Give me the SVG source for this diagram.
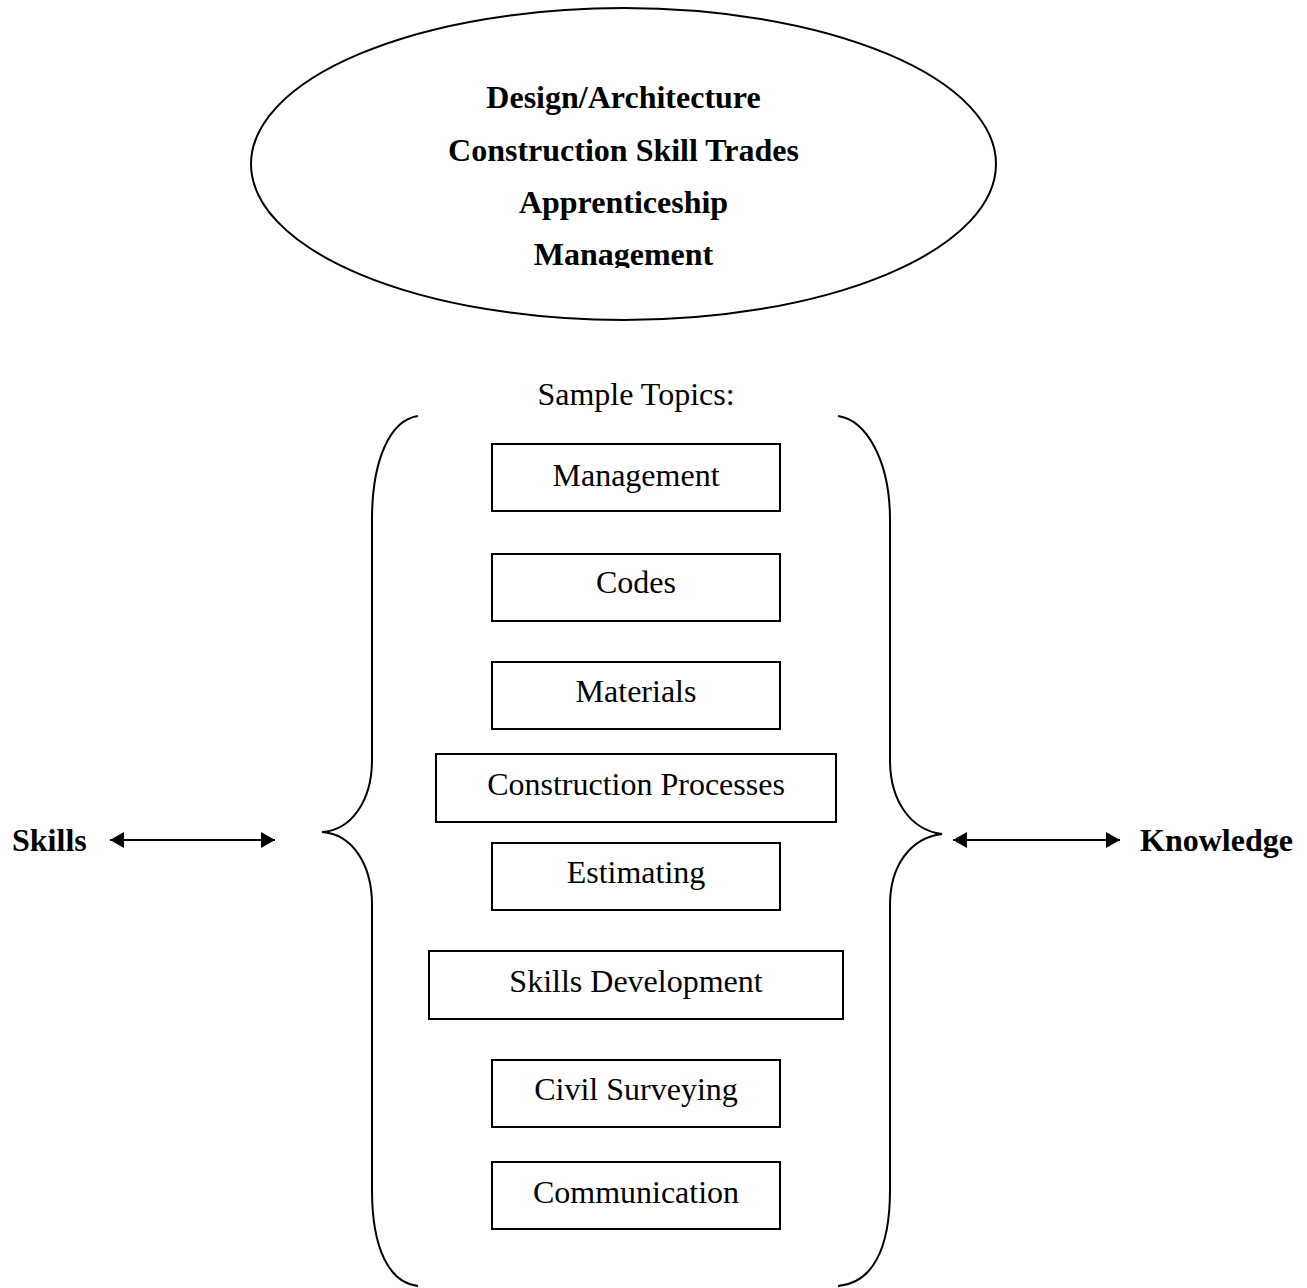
<svg xmlns="http://www.w3.org/2000/svg" width="1307" height="1288" viewBox="0 0 1307 1288">
<style>
.ln{fill:none;stroke:#000;stroke-width:2}
.box{fill:#fff;stroke:#000;stroke-width:2}
.t{font-family:"Liberation Serif","Times New Roman",serif;font-size:32px;fill:#000}
.b{font-weight:bold}
.c{text-anchor:middle}
</style>
<defs>
<marker id="ah" viewBox="0 0 14 16" refX="14" refY="8" markerWidth="14" markerHeight="16" markerUnits="userSpaceOnUse" orient="auto-start-reverse">
<path d="M0,0 L14,8 L0,16 Z" fill="#000"/>
</marker>
<clipPath id="ellclip"><rect x="240" y="0" width="780" height="268"/></clipPath>
</defs>
<rect width="1307" height="1288" fill="#fff"/>
<g id="ellipse-node">
<ellipse class="ln" cx="623.5" cy="164" rx="372.5" ry="156"/>
<g clip-path="url(#ellclip)">
<text class="t b c" x="623.5" y="108">Design/Architecture</text>
<text class="t b c" x="623.5" y="161">Construction Skill Trades</text>
<text class="t b c" x="623.5" y="213">Apprenticeship</text>
<text class="t b c" x="623.5" y="265">Management</text>
</g>
</g>
<g id="sample-topics-label">
<text class="t c" x="636" y="405">Sample Topics:</text>
</g>
<g id="left-brace">
<path class="ln" d="M418,416 C390,420 372,460 372,520 L372,760 C372,800 352,830 322,832 C352,834 372,864 372,905 L372,1190 C372,1250 390,1283 418,1286"/>
</g>
<g id="right-brace">
<path class="ln" d="M838,416 C866,420 890,460 890,520 L890,760 C890,800 910,830 942,834 C910,838 890,866 890,905 L890,1190 C890,1250 872,1283 838,1286"/>
</g>
<g id="topic-management"><rect class="box" x="492" y="444" width="288" height="67"/><text class="t c" x="636" y="486">Management</text></g>
<g id="topic-codes"><rect class="box" x="492" y="554" width="288" height="67"/><text class="t c" x="636" y="593">Codes</text></g>
<g id="topic-materials"><rect class="box" x="492" y="662" width="288" height="67"/><text class="t c" x="636" y="702">Materials</text></g>
<g id="topic-construction-processes"><rect class="box" x="436" y="754" width="400" height="68"/><text class="t c" x="636" y="795">Construction Processes</text></g>
<g id="topic-estimating"><rect class="box" x="492" y="843" width="288" height="67"/><text class="t c" x="636" y="883">Estimating</text></g>
<g id="topic-skills-development"><rect class="box" x="429" y="951" width="414" height="68"/><text class="t c" x="636" y="992">Skills Development</text></g>
<g id="topic-civil-surveying"><rect class="box" x="492" y="1060" width="288" height="67"/><text class="t c" x="636" y="1100">Civil Surveying</text></g>
<g id="topic-communication"><rect class="box" x="492" y="1162" width="288" height="67"/><text class="t c" x="636" y="1203">Communication</text></g>
<g id="skills-node"><text class="t b" x="12" y="851">Skills</text></g>
<g id="knowledge-node"><text class="t b" x="1140" y="851">Knowledge</text></g>
<g id="connectors">
<line class="ln" x1="110" y1="840" x2="275" y2="840" marker-start="url(#ah)" marker-end="url(#ah)"/>
<line class="ln" x1="953" y1="840" x2="1120" y2="840" marker-start="url(#ah)" marker-end="url(#ah)"/>
</g>
</svg>
